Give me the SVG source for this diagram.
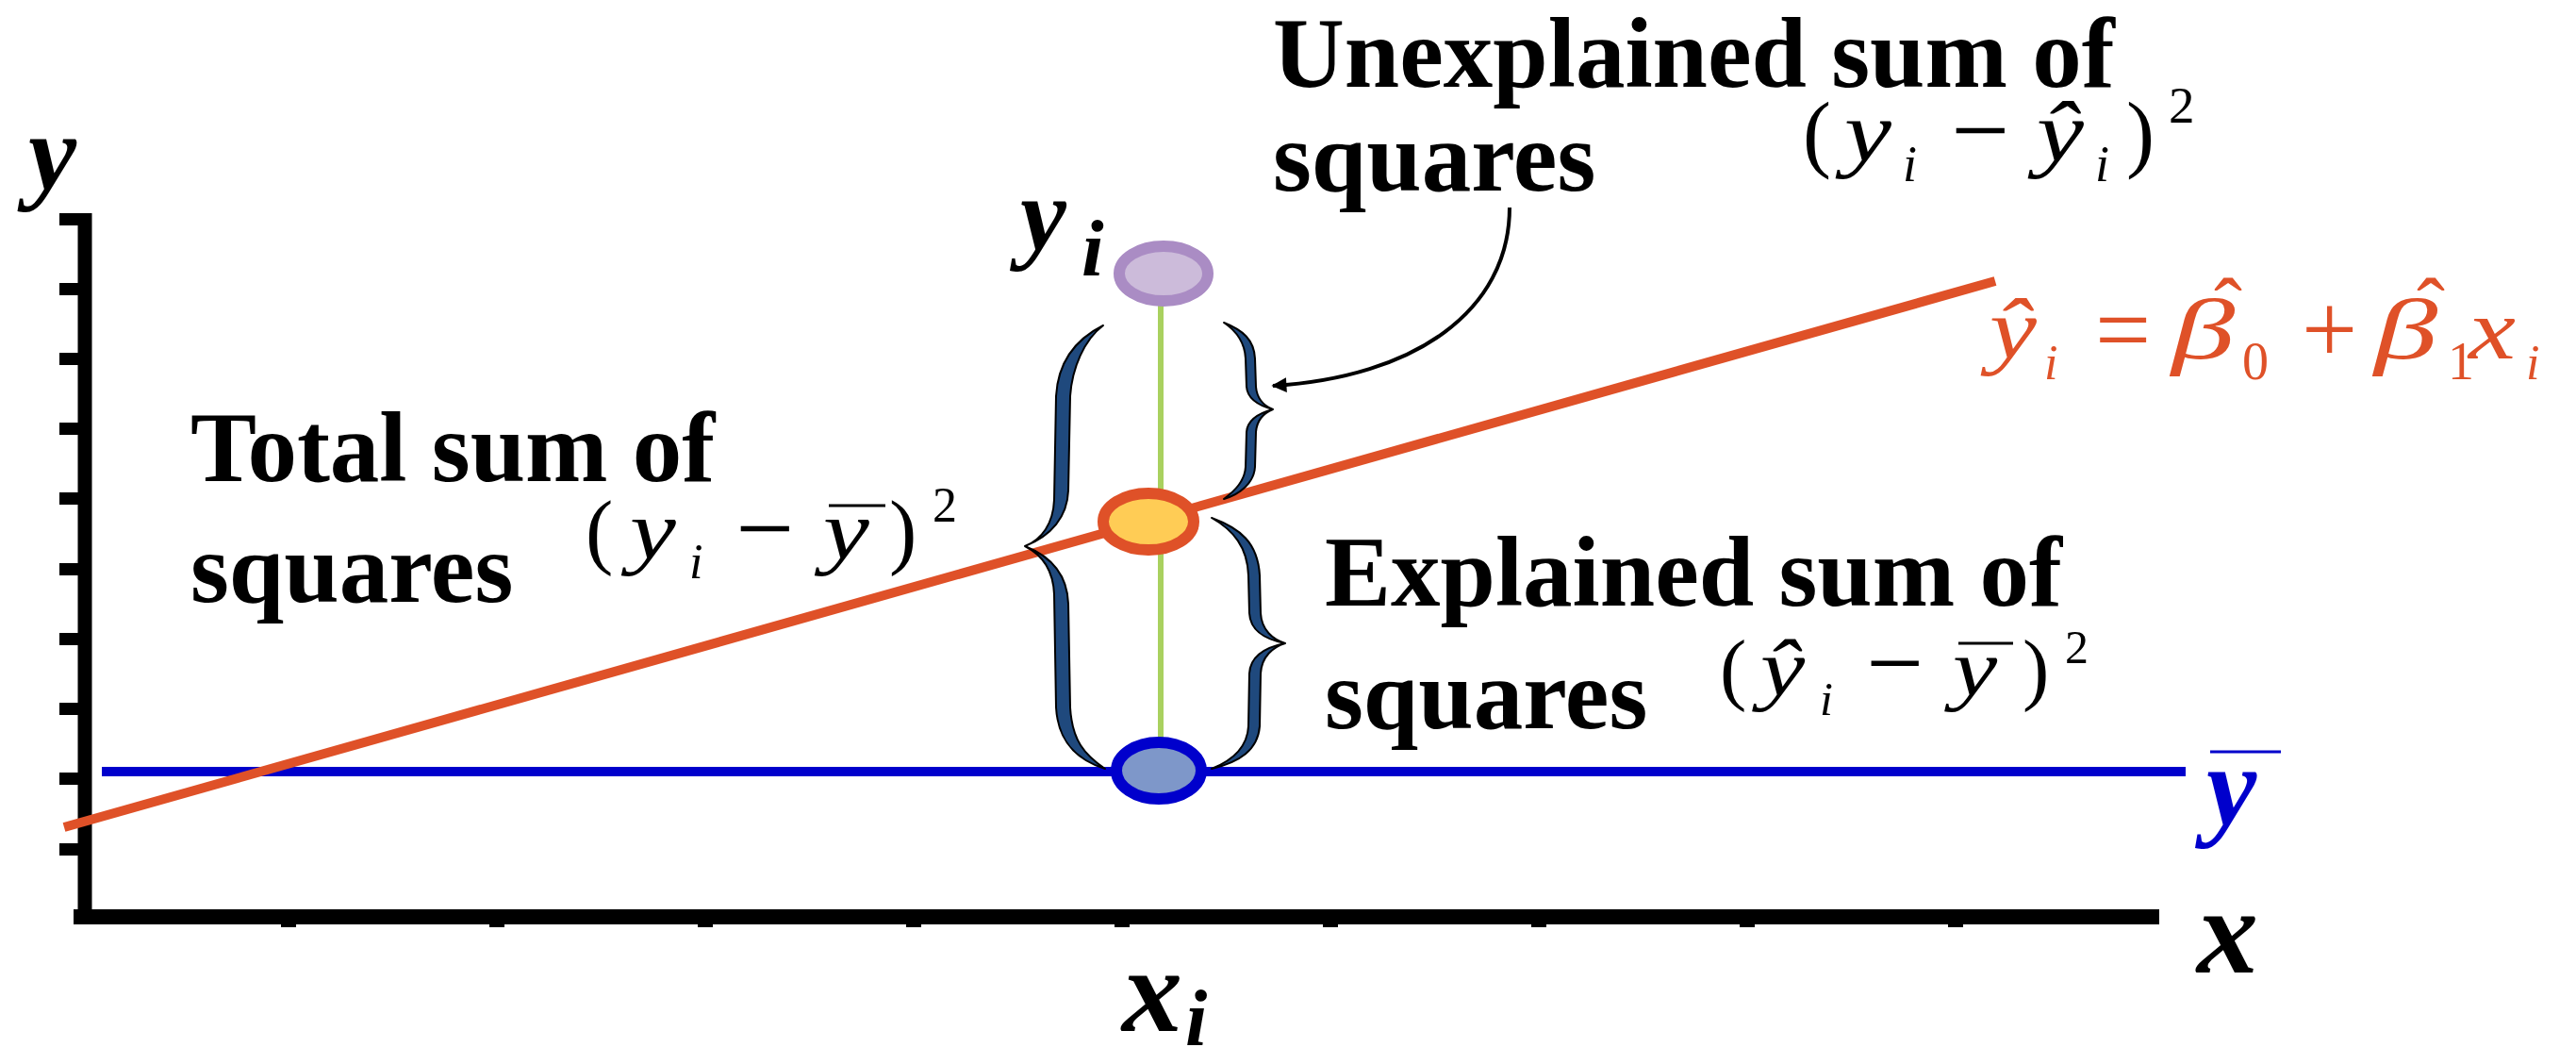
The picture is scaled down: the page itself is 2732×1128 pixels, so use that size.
<svg xmlns="http://www.w3.org/2000/svg" width="2732" height="1128" viewBox="0 0 2732 1128">
<defs>
<style>
.lbl{font-family:"Liberation Serif","Times New Roman",serif;font-weight:bold;font-size:105px;fill:#000}
.bi{font-family:"Liberation Serif","Times New Roman",serif;font-weight:bold;font-style:italic;fill:#000}
.m{font-family:"Liberation Serif","Times New Roman",serif;fill:#000}
.mi{font-family:"Liberation Serif","Times New Roman",serif;font-style:italic;fill:#000}
.or .m,.or .mi{fill:#DF5128}
.brace{fill:#1F497D;stroke:#000;stroke-width:2;stroke-linejoin:round}
.tick{fill:#000}
</style>
<marker id="ah" viewBox="0 0 10 10" refX="9" refY="5" markerUnits="userSpaceOnUse" markerWidth="18" markerHeight="16" orient="auto">
<path d="M0,0 L10,5 L0,10 z" fill="#000"/>
</marker>
</defs>
<rect width="2732" height="1128" fill="#fff"/>

<g id="axes">
<line x1="90" y1="226" x2="90" y2="980" stroke="#000" stroke-width="15"/>
<line x1="78" y1="972" x2="2290" y2="972" stroke="#000" stroke-width="16"/>
<rect class="tick" x="63" y="226" width="27" height="13"/>
<rect class="tick" x="63" y="300" width="27" height="13"/>
<rect class="tick" x="63" y="374" width="27" height="13"/>
<rect class="tick" x="63" y="448" width="27" height="13"/>
<rect class="tick" x="63" y="522" width="27" height="13"/>
<rect class="tick" x="63" y="597" width="27" height="13"/>
<rect class="tick" x="63" y="671" width="27" height="13"/>
<rect class="tick" x="63" y="745" width="27" height="13"/>
<rect class="tick" x="63" y="819" width="27" height="13"/>
<rect class="tick" x="63" y="894" width="27" height="13"/>
<rect class="tick" x="298" y="978" width="16" height="5"/>
<rect class="tick" x="519" y="978" width="16" height="5"/>
<rect class="tick" x="740" y="978" width="16" height="5"/>
<rect class="tick" x="961" y="978" width="16" height="5"/>
<rect class="tick" x="1182" y="978" width="16" height="5"/>
<rect class="tick" x="1403" y="978" width="16" height="5"/>
<rect class="tick" x="1624" y="978" width="16" height="5"/>
<rect class="tick" x="1845" y="978" width="16" height="5"/>
<rect class="tick" x="2066" y="978" width="16" height="5"/>
<text class="bi" x="30" y="201" font-size="115">y</text>
<text class="bi" x="2330" y="1031" font-size="130">x</text>
<text class="bi" x="1190" y="1093" font-size="128">x</text>
<text class="bi" x="1257" y="1108" font-size="84">i</text>
</g>

<g id="mean-line">
<line x1="108" y1="818" x2="2318" y2="818" stroke="#0000CC" stroke-width="10"/>
<text class="bi" x="2340" y="874" font-size="120" style="fill:#0000CC">y</text>
<line x1="2344" y1="797" x2="2419" y2="797" stroke="#0000CC" stroke-width="3"/>
</g>

<g id="regression-line">
<line x1="68" y1="877" x2="2116" y2="298" stroke="#DF5128" stroke-width="10"/>
<g class="or">
<text class="mi" transform="translate(2110 380) scale(1.25 1)" font-size="90">ŷ</text>
<text class="mi" x="2168" y="402" font-size="52">i</text>
<text class="m" x="2222" y="385" font-size="105">=</text>
<text class="mi" transform="translate(2303 380) scale(1.5 1)" font-size="90">β</text>
<text class="m" x="2363" y="358" font-size="90" text-anchor="middle">ˆ</text>
<text class="m" x="2378" y="402" font-size="56">0</text>
<text class="m" x="2441" y="385" font-size="105">+</text>
<text class="mi" transform="translate(2518 380) scale(1.5 1)" font-size="90">β</text>
<text class="m" x="2578" y="358" font-size="90" text-anchor="middle">ˆ</text>
<text class="m" x="2596" y="402" font-size="56">1</text>
<text class="mi" transform="translate(2618 380) scale(1.25 1)" font-size="90">x</text>
<text class="mi" x="2679" y="402" font-size="52">i</text>
</g>
</g>

<g id="connectors">
<line x1="1231" y1="318" x2="1231" y2="790" stroke="#A9D15F" stroke-width="6"/>
<path d="M 1601 220 C 1601 330, 1500 400, 1350 409" fill="none" stroke="#000" stroke-width="4" marker-end="url(#ah)"/>
</g>

<g id="node-yi">
<ellipse cx="1234" cy="290" rx="47" ry="29" fill="#CCBBDA" stroke="#AA8CC4" stroke-width="12"/>
<text class="bi" x="1082" y="265" font-size="110">y</text>
<text class="bi" x="1147" y="292" font-size="85">i</text>
</g>

<g id="node-yhat">
<ellipse cx="1218" cy="553" rx="48" ry="30" fill="#FFCC55" stroke="#DF5128" stroke-width="12"/>
</g>

<g id="node-ybar">
<ellipse cx="1229" cy="817" rx="45" ry="30" fill="#7E97C9" stroke="#0000CC" stroke-width="12"/>
</g>

<g id="brace-total">
<path class="brace" d="M 1170 345 C 1140 360, 1122 385, 1120 420 L 1118 530 C 1117 555, 1105 572, 1087 579 C 1105 588, 1117 605, 1118 630 L 1120 750 C 1122 785, 1140 805, 1172 815 C 1150 800, 1137 785, 1135 750 L 1133 640 C 1132 610, 1115 590, 1087 579 C 1115 568, 1132 548, 1133 520 L 1135 420 C 1137 390, 1150 360, 1170 345 Z"/>
</g>
<g id="brace-unexplained">
<path class="brace" d="M 1298 342 C 1318 350, 1330 360, 1331 380 L 1332 410 C 1333 422, 1340 430, 1350 434 C 1340 438, 1333 446, 1332 458 L 1331 495 C 1330 512, 1315 524, 1298 529 C 1310 520, 1320 510, 1321 495 L 1322 458 C 1323 445, 1335 438, 1350 434 C 1335 430, 1323 423, 1322 410 L 1321 380 C 1320 362, 1310 350, 1298 342 Z"/>
</g>
<g id="brace-explained">
<path class="brace" d="M 1285 549 C 1315 560, 1334 575, 1336 610 L 1337 650 C 1338 668, 1350 678, 1363 682 C 1350 686, 1338 696, 1337 714 L 1336 770 C 1334 795, 1315 808, 1285 815 C 1310 805, 1323 790, 1324 770 L 1325 714 C 1326 695, 1343 686, 1363 682 C 1343 678, 1326 670, 1325 650 L 1324 610 C 1323 580, 1308 562, 1285 549 Z"/>
</g>

<g id="label-unexplained">
<text class="lbl" x="1350" y="92">Unexplained sum of</text>
<text class="lbl" x="1350" y="202">squares</text>
<text class="m" x="1912" y="171" font-size="90">(</text>
<text class="mi" transform="translate(1956 171) scale(1.25 1)" font-size="90">y</text>
<text class="mi" x="2018" y="192" font-size="54">i</text>
<text class="m" x="2069" y="175" font-size="110">−</text>
<text class="mi" transform="translate(2160 171) scale(1.25 1)" font-size="90">ŷ</text>
<text class="mi" x="2222" y="192" font-size="54">i</text>
<text class="m" x="2255" y="171" font-size="90">)</text>
<text class="m" x="2300" y="130" font-size="55">2</text>
</g>

<g id="label-total">
<text class="lbl" x="202" y="510">Total sum of</text>
<text class="lbl" x="202" y="638">squares</text>
<text class="m" x="621" y="592" font-size="88">(</text>
<text class="mi" transform="translate(668 592) scale(1.25 1)" font-size="88">y</text>
<text class="mi" x="731" y="613" font-size="52">i</text>
<text class="m" x="780" y="597" font-size="110">−</text>
<text class="mi" transform="translate(873 592) scale(1.25 1)" font-size="88">y</text>
<line x1="879" y1="536" x2="939" y2="536" stroke="#000" stroke-width="3"/>
<text class="m" x="943" y="592" font-size="88">)</text>
<text class="m" x="989" y="553" font-size="52">2</text>
</g>

<g id="label-explained">
<text class="lbl" x="1405" y="642">Explained sum of</text>
<text class="lbl" x="1405" y="772">squares</text>
<text class="m" x="1824" y="737" font-size="85">(</text>
<text class="mi" transform="translate(1867 737) scale(1.25 1)" font-size="85">ŷ</text>
<text class="mi" x="1930" y="758" font-size="50">i</text>
<text class="m" x="1979" y="739" font-size="108">−</text>
<text class="mi" transform="translate(2071 737) scale(1.25 1)" font-size="85">y</text>
<line x1="2077" y1="682" x2="2135" y2="682" stroke="#000" stroke-width="3"/>
<text class="m" x="2145" y="737" font-size="85">)</text>
<text class="m" x="2190" y="703" font-size="50">2</text>
</g>
</svg>
